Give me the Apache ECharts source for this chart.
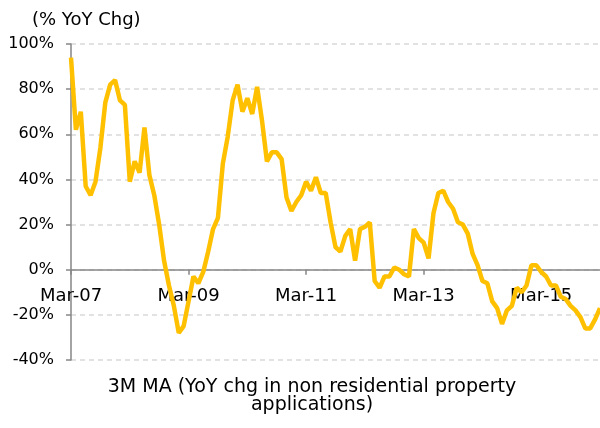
<!DOCTYPE html>
<html>
<head>
<meta charset="utf-8">
<script src="https://cdn.jsdelivr.net/npm/echarts@6/dist/echarts.min.js"></script>
<style>
  html, body { margin: 0; padding: 0; background: #fff; }
  #chart { width: 600px; height: 428px; }
</style>
</head>
<body>
<div id="chart"></div>
<script>
// monthly points, Mar-07 .. Mar-16
const months = [
  'Mar-07','Apr-07','May-07','Jun-07','Jul-07','Aug-07','Sep-07','Oct-07','Nov-07','Dec-07','Jan-08','Feb-08',
  'Mar-08','Apr-08','May-08','Jun-08','Jul-08','Aug-08','Sep-08','Oct-08','Nov-08','Dec-08','Jan-09','Feb-09',
  'Mar-09','Apr-09','May-09','Jun-09','Jul-09','Aug-09','Sep-09','Oct-09','Nov-09','Dec-09','Jan-10','Feb-10',
  'Mar-10','Apr-10','May-10','Jun-10','Jul-10','Aug-10','Sep-10','Oct-10','Nov-10','Dec-10','Jan-11','Feb-11',
  'Mar-11','Apr-11','May-11','Jun-11','Jul-11','Aug-11','Sep-11','Oct-11','Nov-11','Dec-11','Jan-12','Feb-12',
  'Mar-12','Apr-12','May-12','Jun-12','Jul-12','Aug-12','Sep-12','Oct-12','Nov-12','Dec-12','Jan-13','Feb-13',
  'Mar-13','Apr-13','May-13','Jun-13','Jul-13','Aug-13','Sep-13','Oct-13','Nov-13','Dec-13','Jan-14','Feb-14',
  'Mar-14','Apr-14','May-14','Jun-14','Jul-14','Aug-14','Sep-14','Oct-14','Nov-14','Dec-14','Jan-15','Feb-15',
  'Mar-15','Apr-15','May-15','Jun-15','Jul-15','Aug-15','Sep-15','Oct-15','Nov-15','Dec-15','Jan-16','Feb-16',
  'Mar-16'
];

// 3M MA, % YoY
const yoyChg = [
  94, 62, 70, 37, 33, 39, 54, 74, 82, 84, 75, 73,
  39, 48, 43, 63, 42, 33, 20, 4, -7, -16, -28, -25,
  -14, -3, -6, -1, 8, 18, 23, 47, 59, 75, 82, 70,
  76, 69, 81, 66, 48, 52, 52, 49, 32, 26, 30, 33,
  39, 35, 41, 34, 34, 21, 10, 8, 15, 18, 4, 18,
  19, 21, -5, -8, -3, -3, 1, 0, -2, -3, 18, 14,
  12, 5, 25, 34, 35, 30, 27, 21, 20, 16, 7, 2,
  -5, -6, -14, -17, -24, -18, -16, -8, -10, -7, 2, 2,
  -1, -3, -7, -7, -12, -13, -16, -18, -21, -26, -26, -22,
  -17
];

const yMin = -40;
const yMax = 100;
const yStep = 20;

const titleText = '(% YoY Chg)';
const legendText = '3M MA (YoY chg in non residential property\napplications)';

const chart = echarts.init(document.getElementById('chart'));
const font = 'DejaVu Sans';

// zero line sits 2 steps above the bottom of the plot (-40 -> 0)
const plotTop = 44;
const plotBottom = 68;
const plotH = 428 - plotTop - plotBottom;
const zeroOffset = plotH * (0 - yMin) / (yMax - yMin);

const option = {
  animation: false,
  backgroundColor: '#fff',
  title: {
    text: titleText,
    left: 27,
    top: 6,
    textStyle: { fontFamily: font, fontSize: 18, fontWeight: 'normal', color: '#000' }
  },
  grid: { left: 71, right: 0, top: plotTop, bottom: plotBottom },
  xAxis: [
    {
      // axis line + ticks at 0%
      type: 'category',
      data: months,
      boundaryGap: false,
      axisLine: { onZero: true, lineStyle: { color: '#868686', width: 1.5 } },
      axisTick: { interval: 23, length: 5, lineStyle: { color: '#868686', width: 1.5 } },
      axisLabel: { show: false },
      splitLine: { show: false }
    },
    {
      // labels only, lifted up to the zero line
      type: 'category',
      data: months,
      boundaryGap: false,
      position: 'bottom',
      offset: -zeroOffset,
      axisLine: { show: false, onZero: false },
      axisTick: { show: false },
      axisLabel: { interval: 23, margin: 18, color: '#000', fontFamily: font, fontSize: 18 },
      splitLine: { show: false }
    }
  ],
  yAxis: {
    type: 'value',
    min: yMin,
    max: yMax,
    interval: yStep,
    axisLine: { show: true, lineStyle: { color: '#868686', width: 1.5 } },
    axisTick: { show: true, length: 5, lineStyle: { color: '#868686', width: 1.5 } },
    axisLabel: { formatter: '{value}%', margin: 17, color: '#000', fontFamily: font, fontSize: 16 },
    splitLine: { lineStyle: { color: '#d9d9d9', width: 1.5, type: [5, 4] } }
  },
  series: [
    {
      name: '3M MA',
      type: 'line',
      data: yoyChg,
      showSymbol: false,
      z: 5,
      lineStyle: { color: '#FFC000', width: 4.5 },
      itemStyle: { color: '#FFC000' }
    }
  ],
  graphic: [
    {
      type: 'text',
      x: 312,
      y: 378,
      style: {
        text: legendText,
        fill: '#000',
        font: '19px "DejaVu Sans"',
        textAlign: 'center',
        lineHeight: 18
      }
    }
  ]
};

chart.setOption(option);

window.addEventListener('resize', () => {
  chart.resize();
});
</script>
</body>
</html>
